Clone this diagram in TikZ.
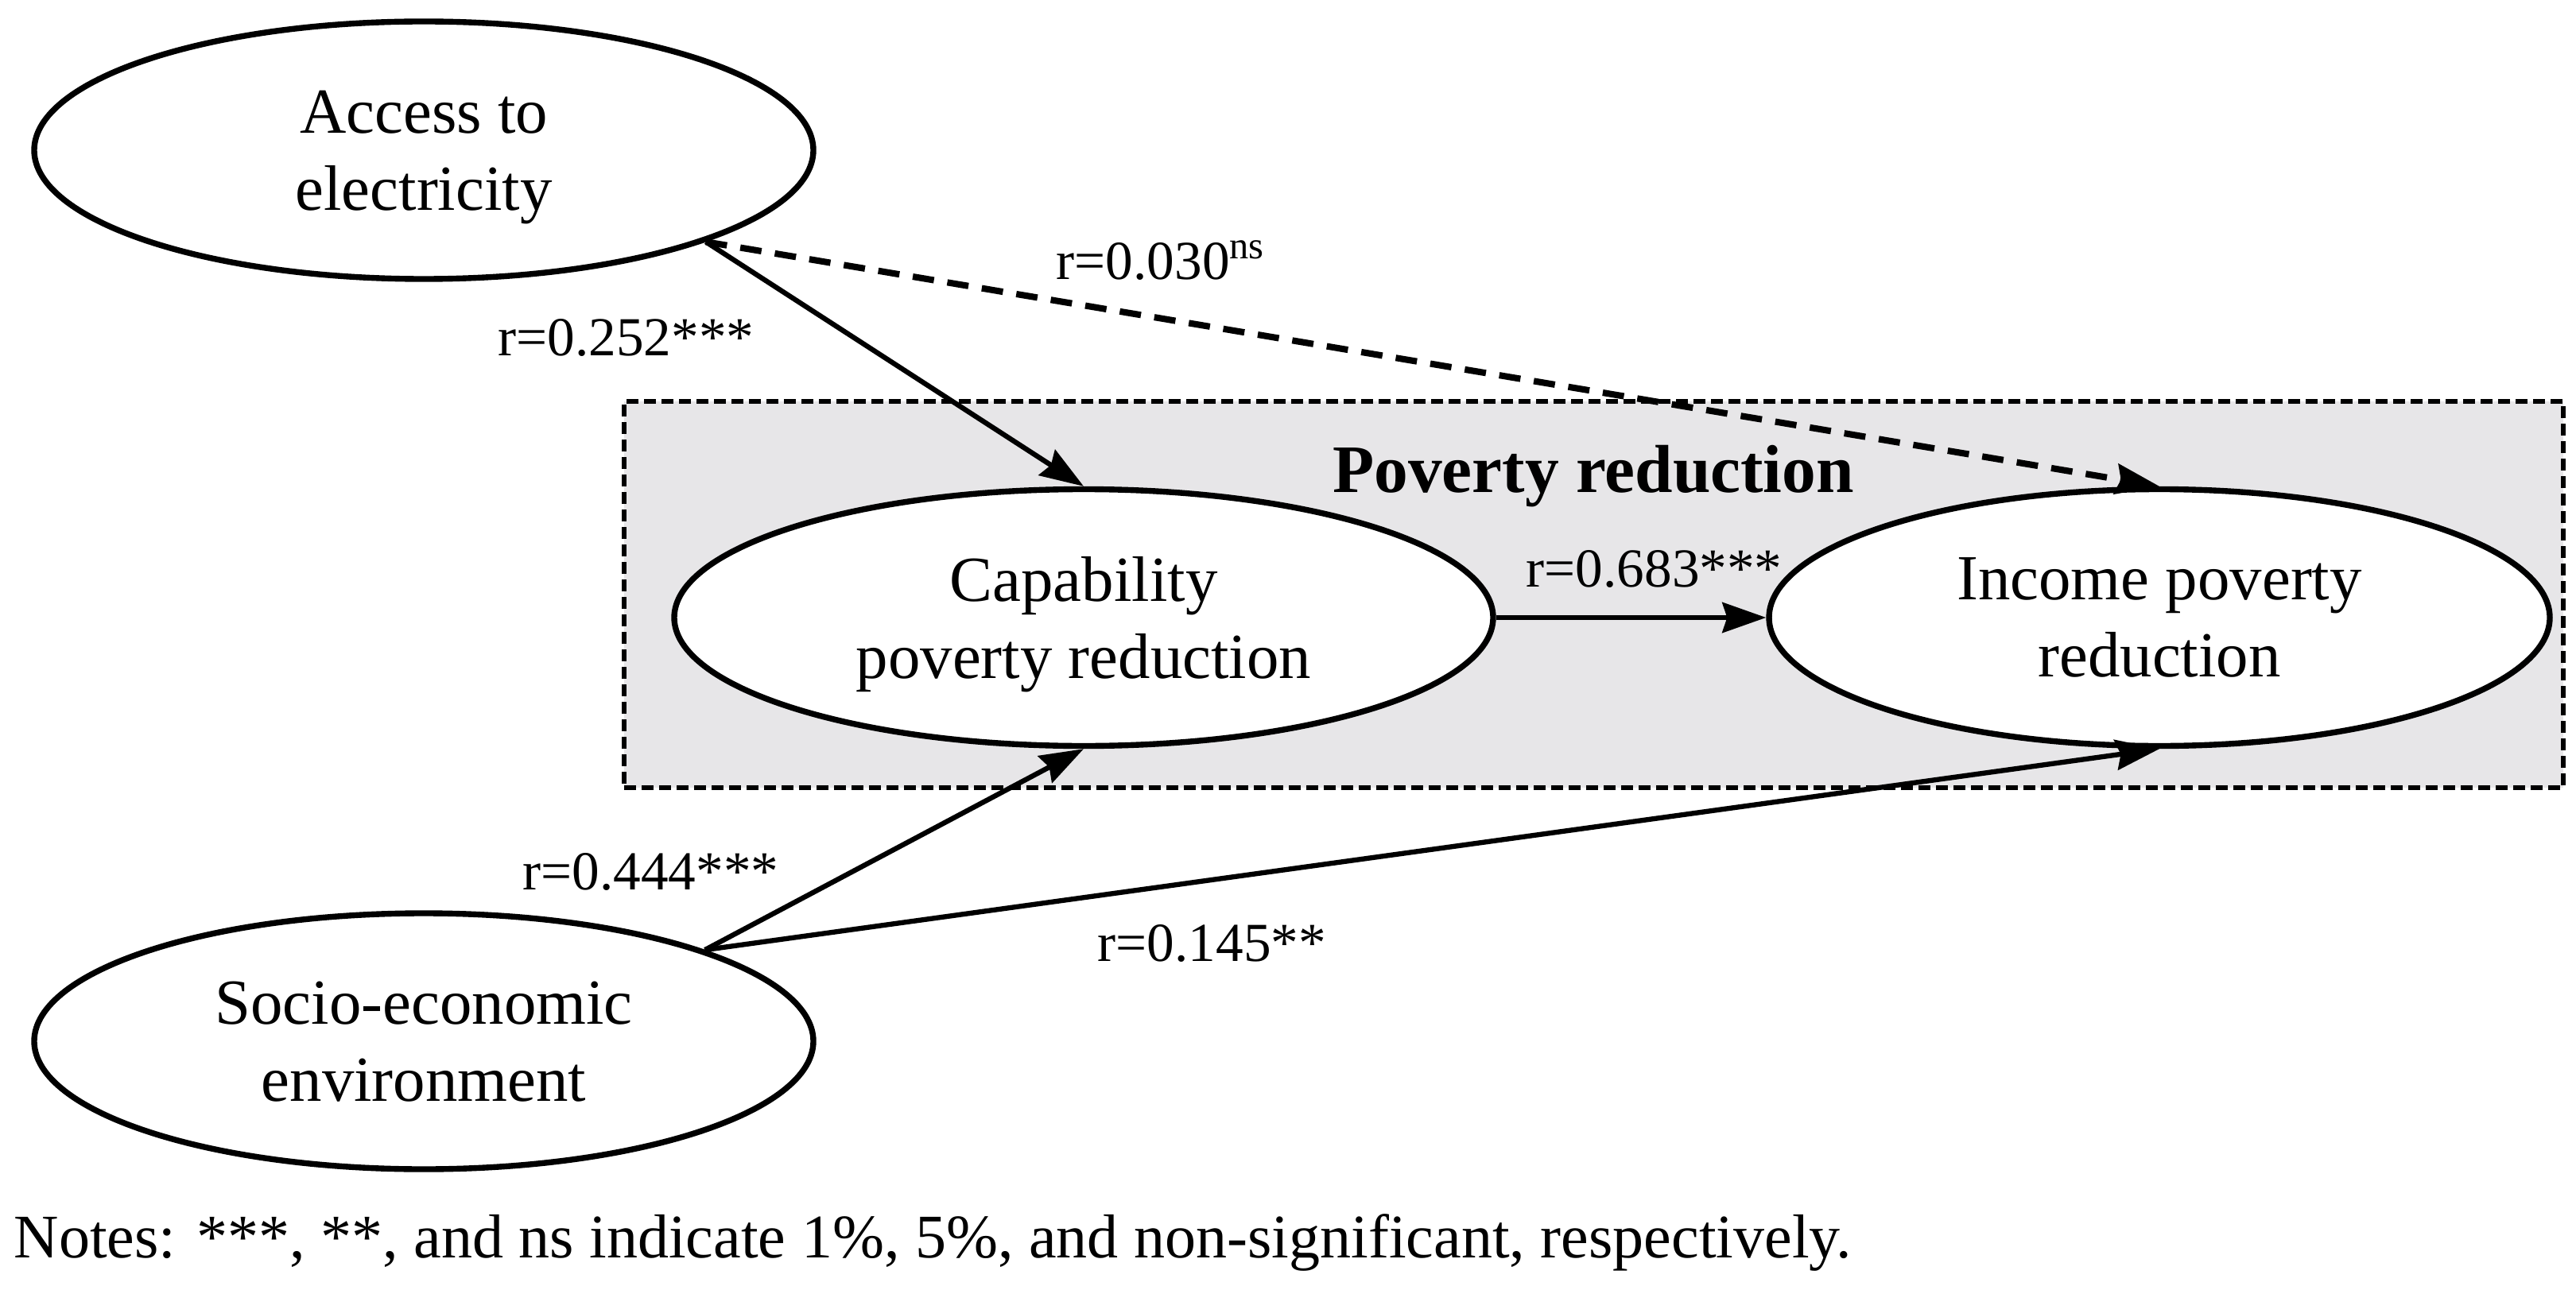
\documentclass[tikz,border=0pt]{standalone}
\usepackage{fontspec}
\usepackage{graphicx}
\setmainfont{Liberation Serif}
\usetikzlibrary{arrows.meta,shapes.geometric}
\definecolor{boxgray}{RGB}{231,230,232}
\begin{document}
\begin{tikzpicture}[
  lat/.style={ellipse, draw, line width=2.1pt, fill=white, inner sep=0pt, align=center,
    text depth=0pt, font=\fontsize{23}{27.6}\selectfont},
  conn/.style={line width=1.8pt, -{Stealth[length=0.55cm,width=0.38cm,inset=0.06cm]}},
  lbl/.style={font=\fontsize{19.7}{23}\selectfont, inner sep=0pt, anchor=base west}]
\useasboundingbox (0,0) rectangle (32.4,-16.23);
% group box
\node[draw, dash pattern=on 0.15cm off 0.07cm, line width=1.9pt, fill=boxgray,
  minimum width=24.39cm, minimum height=4.86cm, inner sep=0pt] (box) at (20.045,-7.48) {};
\node[font=\fontsize{24.3}{29}\selectfont\bfseries, inner sep=0pt, anchor=base] (title) at (20.04,-6.20) {Poverty reduction};
% latent variables
\node[lat, minimum width=9.8cm, minimum height=3.24cm] (acc) at (5.33,-1.89) {Access to\\electricity};
\node[lat, minimum width=9.8cm, minimum height=3.22cm] (soc) at (5.33,-13.10) {Socio-economic\\environment};
\node[lat, minimum width=10.3cm, minimum height=3.23cm] (cap) at (13.63,-7.77) {Capability\\poverty reduction};
\node[lat, minimum width=9.82cm, minimum height=3.23cm] (inc) at (27.16,-7.77) {Income poverty\\reduction};
% paths
\draw[conn] (acc.-18) -- (cap.north);
\draw[conn, line width=2.3pt, dash pattern=on 0.27cm off 0.17cm] (acc.-18) -- (inc.north);
\draw[conn] (cap.east) -- (inc.west);
\draw[conn] (soc.18) -- (cap.south);
\draw[conn] (soc.18) -- (inc.south);
% labels
\node[lbl] (l1) at (6.26,-4.48) {r=0.252***};
\node[lbl] (l2) at (13.28,-3.52) {r=0.030\textsuperscript{ns}};
\node[lbl] (l3) at (19.19,-7.38) {r=0.683***};
\node[lbl] (l4) at (6.57,-11.19) {r=0.444***};
\node[lbl] (l5) at (13.80,-12.09) {r=0.145**};
\node[lbl, font=\fontsize{22.2}{26}\selectfont] (notes) at (0.17,-15.82) {Notes: ***, **, and ns indicate 1\%, 5\%, and non-significant, respectively.};
\end{tikzpicture}
\end{document}
